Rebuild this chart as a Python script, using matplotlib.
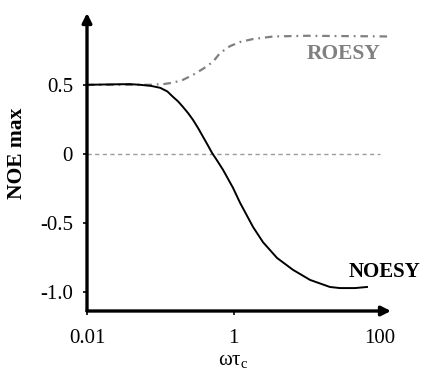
import matplotlib
matplotlib.use("Agg")
import matplotlib.pyplot as plt

plt.rcParams['font.family'] = ['Liberation Serif', 'DejaVu Serif']

# NOESY curve (omega*tau_c, NOE max)
noesy_x = [0.01, 0.0206, 0.0386, 0.053, 0.075, 0.1, 0.125, 0.149, 0.175, 0.204,
           0.24, 0.28, 0.33, 0.384, 0.44, 0.509, 0.6, 0.72, 0.984, 1.23,
           1.85, 2.53, 3.93, 6.49, 11.1, 20.7, 28.4, 45.5, 66.4]
noesy_y = [0.5, 0.503, 0.505, 0.5, 0.492, 0.478, 0.452, 0.413, 0.38, 0.34,
           0.295, 0.246, 0.185, 0.123, 0.068, 0.007, -0.05, -0.116, -0.246, -0.355,
           -0.53, -0.64, -0.754, -0.84, -0.913, -0.964, -0.972, -0.972, -0.964]

# ROESY curve
roesy_x = [0.01, 0.03, 0.072, 0.11, 0.149, 0.204, 0.28, 0.384, 0.525, 0.655,
           0.895, 1.23, 1.79, 3.47, 10, 141]
roesy_y = [0.5, 0.5, 0.5, 0.505, 0.515, 0.536, 0.572, 0.616, 0.667, 0.73,
           0.78, 0.81, 0.83, 0.85, 0.855, 0.85]

x_ticks = [0.01, 1, 100]
x_tick_labels = ['0.01', '1', '100']
y_ticks = [0.5, 0, -0.5, -1.0]
y_tick_labels = ['0.5', '0', '-0.5', '-1.0']

fig = plt.figure(figsize=(4.22, 3.72), dpi=100)
ax = fig.add_axes([87/422, 1-311/372, (391-87)/422, (311-13)/372])
ax.set_xscale('log')
xmin, xmax = 0.01, 10**2.15
ymin, ymax = -1.138, 1.02
ax.set_xlim(xmin, xmax)
ax.set_ylim(ymin, ymax)
for s in ax.spines.values():
    s.set_visible(False)

# zero reference line
ax.plot([0.01, 10**2.0], [0, 0], color='#9a9a9a', lw=1.0, linestyle=(0, (3, 2.5)))

ax.plot(roesy_x, roesy_y, color='#808080', lw=1.6,
        linestyle=(0, (3.4, 2.2, 0.8, 2.2)))
ax.plot(noesy_x, noesy_y, color='black', lw=1.4)

# axes arrows
ax.annotate('', xy=(xmax, ymin), xytext=(xmin, ymin),
            arrowprops=dict(arrowstyle='-|>', color='black', lw=2.4,
                            mutation_scale=14, shrinkA=0, shrinkB=0),
            annotation_clip=False)
ax.annotate('', xy=(xmin, ymax), xytext=(xmin, ymin),
            arrowprops=dict(arrowstyle='-|>', color='black', lw=2.4,
                            mutation_scale=14, shrinkA=0, shrinkB=0),
            annotation_clip=False)

ax.set_xticks(x_ticks)
ax.set_xticklabels(x_tick_labels)
ax.minorticks_off()
ax.set_yticks(y_ticks)
ax.set_yticklabels(y_tick_labels)
ax.tick_params(axis='both', labelsize=15, length=3, width=1.2)
ax.tick_params(axis='x', pad=10)
ax.tick_params(axis='y', pad=7)

ax.set_ylabel('NOE max', fontsize=15.5, fontweight='bold')
ax.yaxis.set_label_coords(-0.197, 0.53)
ax.set_xlabel('ωτ$_\\mathregular{c}$', fontsize=15)
ax.xaxis.set_label_coords(0.48, -0.138)

ax.text(10**1.5, 0.72, 'ROESY', color='#808080', fontsize=15.5, fontweight='bold',
        ha='center', va='center')
ax.text(10**2.06, -0.855, 'NOESY', color='black', fontsize=15,
        fontweight='bold', ha='center', va='center', clip_on=False)

fig.savefig('out.png', dpi=100)
